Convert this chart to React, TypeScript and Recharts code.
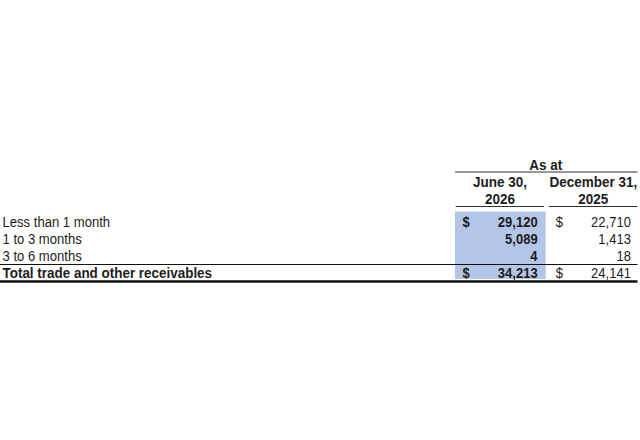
import React from 'react';
import { ScatterChart, Scatter, XAxis, YAxis, ReferenceArea, ReferenceLine } from 'recharts';

const rowLabels = ['Less than 1 month', '1 to 3 months', '3 to 6 months', 'Total trade and other receivables'];
const june2026 = [29120, 5089, 4, 34213];
const dec2025 = [22710, 1413, 18, 24141];
const columnHeaders = [['June 30,', '2026'], ['December 31,', '2025']];
const groupHeader = 'As at';
const dollarRows = [0, 3];
const totalRow = 3;

const FONT = "'Liberation Sans', Arial, Helvetica, sans-serif";
const TEXT = '#1c1c1c';
const RULE = '#333333';
const STRETCH = 1.12;

const buildPoints = (values: number[], col: number) =>
  values.map((v, i) => ({ col, row: i, value: v, dollar: dollarRows.includes(i), bold: col === 1 }));

const juneData = buildPoints(june2026, 1);
const decData = buildPoints(dec2025, 2);

const T = (props: any) => {
  const { x, y, size = 13, weight = 400, anchor = 'start', children } = props;
  return (
    <text
      x={x}
      y={y}
      dy="0.35em"
      transform={`translate(0 ${y}) scale(1 ${STRETCH}) translate(0 ${-y})`}
      fontFamily={FONT}
      fontSize={size}
      fontWeight={weight}
      fill={TEXT}
      textAnchor={anchor}
    >
      {children}
    </text>
  );
};

const ValueCell = (props: any) => {
  const { cx, cy, payload } = props;
  if (cx == null || cy == null) return null;
  const weight = payload.bold ? 700 : 400;
  return (
    <g>
      {payload.dollar && (
        <T x={cx - 37.5} y={cy} weight={weight}>
          $
        </T>
      )}
      <T x={cx + 37.5} y={cy} weight={weight} anchor="end">
        {payload.value.toLocaleString('en-US')}
      </T>
    </g>
  );
};

const RowTick = (props: any) => {
  const { y, payload } = props;
  const idx = payload.value as number;
  const bold = idx === totalRow;
  return (
    <T x={2.5} y={y} weight={bold ? 700 : 400} size={bold ? 13.45 : 13.1}>
      {rowLabels[idx]}
    </T>
  );
};

const HeaderTick = (props: any) => {
  const { x, y, payload } = props;
  const lines = columnHeaders[(payload.value as number) - 1];
  return (
    <g>
      <T x={x} y={y - 31.5} weight={700} size={13.5} anchor="middle">
        {lines[0]}
      </T>
      <T x={x} y={y - 14.5} weight={700} size={13.5} anchor="middle">
        {lines[1]}
      </T>
      <line x1={x - 44.5} x2={x + 44} y1={y - 7} y2={y - 7} stroke={RULE} strokeWidth={1} />
    </g>
  );
};

const GroupLabel = (props: any) => {
  const vb = props.viewBox || {};
  const { x = 0, y = 0, width = 0 } = vb;
  return (
    <g>
      <T x={x + width / 2 - 1} y={y + 15} weight={700} size={13.5} anchor="middle">
        {groupHeader}
      </T>
      <line x1={x + 1.5} x2={x + width - 2.5} y1={y + 22} y2={y + 22} stroke={RULE} strokeWidth={1} />
    </g>
  );
};

const FullRule = (w: number) => (p: any) => (
  <line x1={0} x2={p.x2 - 2.5} y1={p.y1} y2={p.y2} stroke="#111" strokeWidth={w} />
);

const Highlight = (p: any) => (
  <rect x={p.x + 1.5} y={p.y - 2} width={p.width - 2.5} height={p.height - 0.5} fill="#b4c6e7" />
);

export default function App() {
  return (
    <div style={{ position: 'absolute', left: 0, top: 0, width: 640, height: 440, background: '#fff' }}>
      <ScatterChart width={640} height={440} margin={{ top: 150, right: 0, bottom: 158.5, left: 0 }}>
        <XAxis
          type="number"
          dataKey="col"
          orientation="top"
          domain={[0.5, 2.5]}
          ticks={[1, 2]}
          interval={0}
          height={63.5}
          axisLine={false}
          tickLine={false}
          tickSize={0}
          tickMargin={0}
          tick={<HeaderTick />}
          label={{ content: (p: any) => <GroupLabel viewBox={p.viewBox} /> }}
        />
        <YAxis
          type="number"
          dataKey="row"
          domain={[-0.5, 3.5]}
          reversed
          ticks={[0, 1, 2, 3]}
          interval={0}
          width={453.5}
          axisLine={false}
          tickLine={false}
          tickSize={0}
          tickMargin={0}
          tick={<RowTick />}
        />
        <ReferenceArea x1={0.5} x2={1.5} y1={-0.5} y2={3.5} shape={Highlight} ifOverflow="visible" />
        <Scatter data={juneData} shape={<ValueCell />} isAnimationActive={false} />
        <Scatter data={decData} shape={<ValueCell />} isAnimationActive={false} />
        <ReferenceLine y={2.5} shape={FullRule(1)} ifOverflow="visible" />
        <ReferenceLine y={3.5} shape={FullRule(2.5)} ifOverflow="visible" />
      </ScatterChart>
    </div>
  );
}
